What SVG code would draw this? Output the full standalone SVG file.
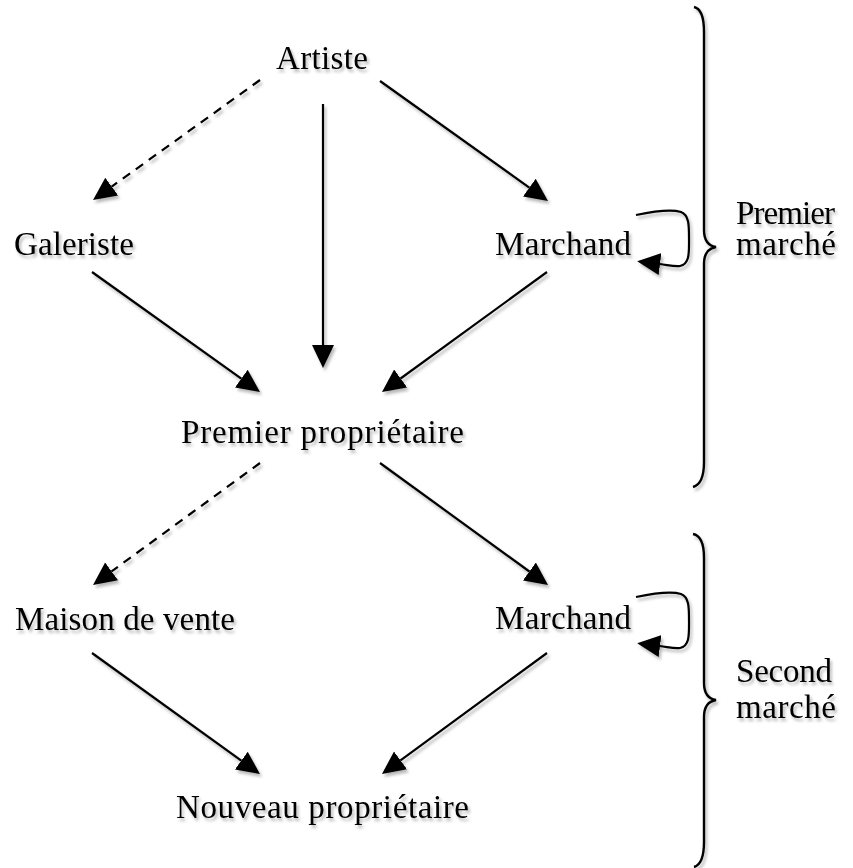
<svg xmlns="http://www.w3.org/2000/svg" width="853" height="868" viewBox="0 0 853 868">
<style>
text{font-family:"Liberation Serif","Times New Roman",serif;font-size:33px;fill:#000}
.c{fill:none;stroke:#000;stroke-width:2.2}
.d{stroke-dasharray:9,7}
.b{fill:none;stroke:#000;stroke-width:2.4}
</style>
<defs>
<filter id="sh" x="-20%" y="-20%" width="140%" height="140%">
<feDropShadow dx="2" dy="3" stdDeviation="1.6" flood-color="#000" flood-opacity="0.28"/>
</filter>
<marker id="ah" markerUnits="userSpaceOnUse" markerWidth="24" markerHeight="24" refX="0" refY="11" orient="auto" viewBox="0 0 24 22">
<path d="M0,0 L23,11 L0,22 z" fill="#000"/>
</marker>
</defs>
<rect width="853" height="868" fill="#fff"/>
<g filter="url(#sh)">
<g id="connectors">
<path class="c d" d="M260,80 L111.7,186.6" marker-end="url(#ah)"/>
<path class="c" d="M380,81 L529.3,187.6" marker-end="url(#ah)"/>
<path class="c" d="M323,104 L323,345" marker-end="url(#ah)"/>
<path class="c" d="M92,272 L241.3,378.6" marker-end="url(#ah)"/>
<path class="c" d="M547,272 L400.6,378.5" marker-end="url(#ah)"/>
<path class="c" d="M636,215 C655,211 672,209 681,212 C689,215 689,225 689,238 C689,252 690,264 680,266 C675,267 668,265 660,264" marker-end="url(#ah)"/>
<path class="c d" d="M260,463 L111.6,571.4" marker-end="url(#ah)"/>
<path class="c" d="M380,463 L529.4,571.5" marker-end="url(#ah)"/>
<path class="c" d="M92,653 L241.3,760.6" marker-end="url(#ah)"/>
<path class="c" d="M547,653 L400.5,760.4" marker-end="url(#ah)"/>
<path class="c" d="M636,597 C655,593 672,591 681,594 C689,597 689,607 689,620 C689,634 690,646 680,648 C675,649 668,647 660,646" marker-end="url(#ah)"/>
</g>
<g id="brace1">
<path class="b" d="M694,7 Q704,9 704,32 L704,230 Q704,245 716,247 Q704,249 704,264 L704,462 Q704,484 693,487"/>
<text x="736" y="224" textLength="99" lengthAdjust="spacing">Premier</text>
<text x="736" y="255" textLength="100" lengthAdjust="spacing">marché</text>
</g>
<g id="brace2">
<path class="b" d="M693,534 Q704,536 704,558 L704,683 Q704,698 716,700 Q704,702 704,717 L704,842 Q704,864 694,867"/>
<text x="736" y="682" textLength="96" lengthAdjust="spacing">Second</text>
<text x="736" y="718" textLength="100" lengthAdjust="spacing">marché</text>
</g>
<g id="artiste"><text x="276" y="69" textLength="92" lengthAdjust="spacing">Artiste</text></g>
<g id="galeriste"><text x="14" y="255" textLength="120" lengthAdjust="spacing">Galeriste</text></g>
<g id="marchand1"><text x="495" y="255" textLength="136" lengthAdjust="spacing">Marchand</text></g>
<g id="premier-proprietaire"><text x="181" y="443" textLength="283" lengthAdjust="spacing">Premier propriétaire</text></g>
<g id="maison-de-vente"><text x="15" y="630" textLength="220" lengthAdjust="spacing">Maison de vente</text></g>
<g id="marchand2"><text x="495" y="629" textLength="136" lengthAdjust="spacing">Marchand</text></g>
<g id="nouveau-proprietaire"><text x="176" y="818" textLength="293" lengthAdjust="spacing">Nouveau propriétaire</text></g>
</g>
</svg>
